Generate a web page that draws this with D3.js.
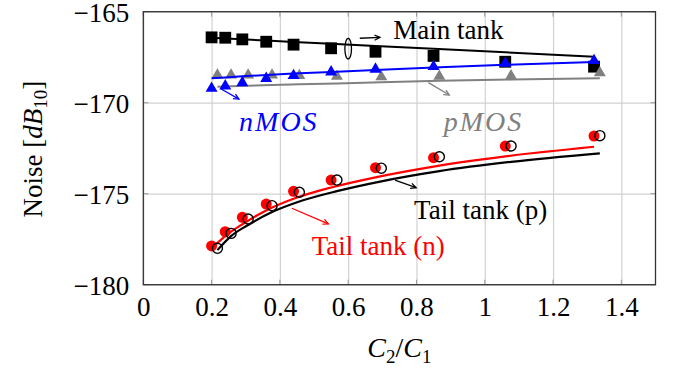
<!DOCTYPE html>
<html>
<head>
<meta charset="utf-8">
<script src="https://cdn.jsdelivr.net/npm/d3@7"></script>
<style>
  body { margin: 0; background: #fff; }
  text { font-family: "Liberation Serif", "DejaVu Serif", serif; }
</style>
</head>
<body>
<div id="chart"></div>
<script>
// x positions of the measurements (C2/C1)
var ratio = [0.2, 0.24, 0.29, 0.36, 0.44, 0.55, 0.68, 0.85, 1.06, 1.32];
// the second set of markers is drawn a little to the right
var ratioShift = [0.217, 0.257, 0.307, 0.377, 0.457, 0.567, 0.697, 0.867, 1.077, 1.337];

// main tank (squares + line)
var mainPts  = [-166.41, -166.43, -166.52, -166.65, -166.81, -167.01, -167.20, -167.43, -167.75, -168.02];
var mainLine = [-166.43, -166.47, -166.52, -166.58, -166.66, -166.76, -166.88, -167.04, -167.23, -167.47];

// nMOS (blue) and pMOS (gray)
var nmosPts  = [-169.21, -169.08, -168.90, -168.67, -168.51, -168.31, -168.16, -168.02, -167.84, -167.69];
var nmosLine = [-168.66, -168.61, -168.55, -168.48, -168.40, -168.31, -168.20, -168.06, -167.92, -167.76];
var pmosPts  = [-168.48, -168.48, -168.48, -168.48, -168.51, -168.55, -168.58, -168.55, -168.53, -168.36];
var pmosLine = [-169.13, -169.10, -169.07, -169.03, -168.99, -168.94, -168.87, -168.80, -168.73, -168.66];

// tail tank (n) red, tail tank (p) black
var tailNPts  = [-177.87, -177.09, -176.30, -175.57, -174.87, -174.25, -173.57, -173.02, -172.38, -171.83];
var tailNLine = [-178.00, -177.33, -176.68, -175.92, -175.28, -174.66, -174.10, -173.51, -172.95, -172.42];
var tailPPts  = [-178.00, -177.18, -176.39, -175.66, -174.92, -174.25, -173.60, -172.97, -172.38, -171.81];
var tailPLine = [-178.10, -177.33, -176.72, -176.01, -175.43, -174.86, -174.32, -173.76, -173.25, -172.78];

var xTicks = [0, 0.2, 0.4, 0.6, 0.8, 1, 1.2, 1.4];
var yTicks = [-180, -175, -170, -165];

makeChart();

function makeChart() {
    var w = 680, h = 374;
    var pL = 143.3, pR = 655.5, pT = 11.7, pB = 284.7;

    var svg = d3.select("#chart").append("svg")
        .attr("width", w)
        .attr("height", h);

    svg.append("rect").attr("width", w).attr("height", h).style("fill", "white");

    var x = d3.scaleLinear().domain([0, 1.5]).range([pL, pR]);
    var y = d3.scaleLinear().domain([-180, -165]).range([pB, pT]);

    var fmtX = function(d) { return d === 0 ? "0" : d3.format("~g")(d); };
    var fmtY = function(d) { return String(d).replace("-", "\u2212"); };

    // grid
    svg.append("g")
        .attr("transform", "translate(0," + pB + ")")
        .call(d3.axisBottom(x).tickValues(xTicks).tickSize(-(pB - pT)).tickFormat(""))
        .call(function(g) { g.select(".domain").remove(); })
        .selectAll("line").style("stroke", "#d2d2d2").style("stroke-width", 1.2);

    svg.append("g")
        .attr("transform", "translate(" + pL + ",0)")
        .call(d3.axisLeft(y).tickValues(yTicks).tickSize(-(pR - pL)).tickFormat(""))
        .call(function(g) { g.select(".domain").remove(); })
        .selectAll("line").style("stroke", "#d2d2d2").style("stroke-width", 1.2);

    // inward tick marks on all four sides
    var tickLen = 5;
    var ticks = svg.append("g").style("stroke", "#999").style("stroke-width", 1);
    xTicks.forEach(function(t) {
        ticks.append("line").attr("x1", x(t)).attr("x2", x(t)).attr("y1", pB).attr("y2", pB - tickLen);
        ticks.append("line").attr("x1", x(t)).attr("x2", x(t)).attr("y1", pT).attr("y2", pT + tickLen);
    });
    yTicks.forEach(function(t) {
        ticks.append("line").attr("x1", pL).attr("x2", pL + tickLen).attr("y1", y(t)).attr("y2", y(t));
        ticks.append("line").attr("x1", pR).attr("x2", pR - tickLen).attr("y1", y(t)).attr("y2", y(t));
    });

    // tick labels
    var xAxis = svg.append("g")
        .attr("transform", "translate(0," + pB + ")")
        .call(d3.axisBottom(x).tickValues(xTicks).tickSize(0).tickPadding(12).tickFormat(fmtX));
    xAxis.select(".domain").remove();
    xAxis.selectAll("text").style("font-size", "27px").style("font-family", "Liberation Serif").style("fill", "#000")
        .attr("dy", "0.71em");

    var yAxis = svg.append("g")
        .attr("transform", "translate(" + pL + ",0)")
        .call(d3.axisLeft(y).tickValues(yTicks).tickSize(0).tickPadding(14).tickFormat(fmtY));
    yAxis.select(".domain").remove();
    yAxis.selectAll("text").style("font-size", "27px").style("font-family", "Liberation Serif").style("fill", "#000")
        .attr("dy", "0.36em");

    // curves
    function drawLine(xs, ys, color, width, curve) {
        var gen = d3.line()
            .x(function(d, i) { return x(xs[i]); })
            .y(function(d) { return y(d); })
            .curve(curve || d3.curveLinear);
        svg.append("path")
            .attr("d", gen(ys))
            .style("fill", "none")
            .style("stroke", color)
            .style("stroke-width", width);
    }

    var sym = d3.symbol();

    function drawMarks(xs, ys, type, size, fill, stroke) {
        svg.append("g").selectAll("path")
            .data(ys)
            .enter()
            .append("path")
            .attr("transform", function(d, i) { return "translate(" + x(xs[i]) + "," + y(d) + ")"; })
            .attr("d", sym.type(type).size(size)())
            .style("fill", fill)
            .style("stroke", stroke || "none")
            .style("stroke-width", 1.4);
    }

    // main tank
    drawMarks(ratio, mainPts, d3.symbolSquare, 140, "#000");
    drawLine(ratio, mainLine, "#000", 2);

    // pMOS
    drawLine(ratioShift, pmosLine, "#808080", 2);
    drawMarks(ratioShift, pmosPts, d3.symbolTriangle, 62, "#808080");

    // nMOS
    drawLine(ratio, nmosLine, "#0000ff", 2);
    drawMarks(ratio, nmosPts, d3.symbolTriangle, 62, "#0000ff");

    // tail tanks
    drawLine(ratio, tailNLine, "#ff0000", 2.2, d3.curveMonotoneX);
    drawLine(ratioShift, tailPLine, "#000", 2.2, d3.curveMonotoneX);
    drawMarks(ratio, tailNPts, d3.symbolCircle, 95, "#ff0000");
    drawMarks(ratioShift, tailPPts, d3.symbolCircle, 80, "none", "#000");

    // annotations (positions in data units)
    function arrow(x1, y1, x2, y2, color) {
        var px1 = x(x1), py1 = y(y1), px2 = x(x2), py2 = y(y2);
        var a = Math.atan2(py2 - py1, px2 - px1);
        var hl = 6, ha = 0.45;
        svg.append("line")
            .attr("x1", px1).attr("y1", py1).attr("x2", px2).attr("y2", py2)
            .style("stroke", color).style("stroke-width", 1.3);
        svg.append("path")
            .attr("d", "M" + (px2 - hl * Math.cos(a - ha)) + "," + (py2 - hl * Math.sin(a - ha)) +
                       "L" + px2 + "," + py2 +
                       "L" + (px2 - hl * Math.cos(a + ha)) + "," + (py2 - hl * Math.sin(a + ha)))
            .style("fill", "none").style("stroke", color).style("stroke-width", 1.3);
    }

    function label(xv, yv, str, color, anchor) {
        return svg.append("text")
            .attr("x", x(xv)).attr("y", y(yv))
            .attr("text-anchor", anchor || "start")
            .style("font-size", "27px")
            .style("fill", color)
            .text(str);
    }

    svg.append("ellipse")
        .attr("cx", x(0.600)).attr("cy", y(-167.03))
        .attr("rx", 3.3).attr("ry", 10.3)
        .style("fill", "none").style("stroke", "#000").style("stroke-width", 1.3);
    arrow(0.634, -166.46, 0.693, -166.41, "#000");
    label(0.732, -166.52, "Main tank", "#000");

    arrow(0.228, -169.25, 0.280, -169.80, "#0000ff");
    label(0.397, -171.54, "nMOS", "#0000ff", "middle")
        .style("font-family", "Liberation Serif")
        .style("font-style", "italic").style("font-size", "28px").style("letter-spacing", "2px");

    arrow(0.835, -168.90, 0.896, -169.58, "#808080");
    label(0.996, -171.54, "pMOS", "#808080", "middle")
        .style("font-family", "Liberation Serif")
        .style("font-style", "italic").style("font-size", "28px").style("letter-spacing", "2px");

    arrow(0.435, -175.80, 0.542, -176.66, "#ff0000");
    label(0.493, -178.37, "Tail tank (n)", "#ff0000");

    arrow(0.737, -174.25, 0.799, -174.67, "#000");
    label(0.793, -176.39, "Tail tank (p)", "#000");

    // axis titles
    var xt = svg.append("text")
        .attr("x", (pL + pR) / 2).attr("y", 357)
        .attr("text-anchor", "middle")
        .style("font-size", "28px");
    xt.append("tspan").style("font-style", "italic").text("C");
    xt.append("tspan").attr("dy", 6).style("font-size", "19px").text("2");
    xt.append("tspan").attr("dy", -6).text("/");
    xt.append("tspan").style("font-style", "italic").text("C");
    xt.append("tspan").attr("dy", 6).style("font-size", "19px").text("1");

    var yt = svg.append("text")
        .attr("transform", "translate(41.7," + ((pT + pB) / 2 + 1) + ") rotate(-90)")
        .attr("text-anchor", "middle")
        .style("font-size", "27px");
    yt.append("tspan").text("Noise [");
    yt.append("tspan").style("font-style", "italic").text("dB");
    yt.append("tspan").attr("dy", 5).style("font-size", "19px").text("10");
    yt.append("tspan").attr("dy", -5).text("]");

    // frame
    svg.append("rect")
        .attr("x", pL).attr("y", pT)
        .attr("width", pR - pL).attr("height", pB - pT)
        .style("fill", "none").style("stroke", "#333").style("stroke-width", 1.3);
}
</script>
</body>
</html>
